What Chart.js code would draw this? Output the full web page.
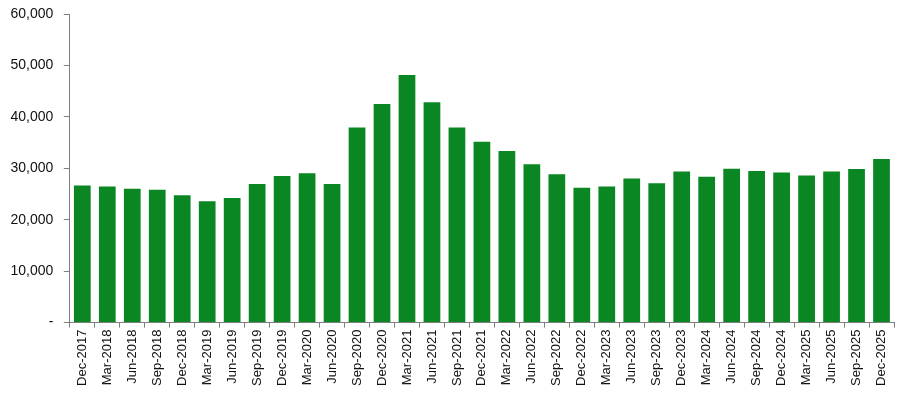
<!DOCTYPE html>
<html>
<head>
<meta charset="utf-8">
<script src="https://cdn.jsdelivr.net/npm/chart.js@4"></script>
<style>
    html, body { margin: 0; padding: 0; background: #ffffff; }
    #wrap { width: 908px; height: 398px; position: relative; }
</style>
</head>
<body>
<div id="wrap"><canvas id="barChart"></canvas></div>
<script>
// --- Data ---
const quarters = [
    'Dec-2017', 'Mar-2018', 'Jun-2018', 'Sep-2018', 'Dec-2018', 'Mar-2019', 'Jun-2019',
    'Sep-2019', 'Dec-2019', 'Mar-2020', 'Jun-2020', 'Sep-2020', 'Dec-2020', 'Mar-2021',
    'Jun-2021', 'Sep-2021', 'Dec-2021', 'Mar-2022', 'Jun-2022', 'Sep-2022', 'Dec-2022',
    'Mar-2023', 'Jun-2023', 'Sep-2023', 'Dec-2023', 'Mar-2024', 'Jun-2024', 'Sep-2024',
    'Dec-2024', 'Mar-2025', 'Jun-2025', 'Sep-2025', 'Dec-2025'
];
const values = [
    26650, 26450, 26050, 25850, 24750, 23600, 24250,
    26950, 28500, 29050, 26950, 37950, 42500, 48150,
    42850, 37950, 35150, 33350, 30800, 28850, 26200,
    26450, 28000, 27100, 29400, 28350, 29900, 29500,
    29200, 28600, 29400, 29850, 31800
];
const yTicks = [0, 10000, 20000, 30000, 40000, 50000, 60000];

Chart.defaults.font.family = "'Liberation Sans', Arial, sans-serif";
Chart.defaults.color = '#111111';

const ctx = document.getElementById('barChart');
new Chart(ctx, {
    type: 'bar',
    data: {
        labels: quarters,
        datasets: [{
            data: values,
            backgroundColor: '#0a8722',
            borderWidth: 0,
            categoryPercentage: 1,
            barPercentage: 0.67
        }]
    },
    options: {
        responsive: true,
        maintainAspectRatio: false,
        animation: false,
        layout: { padding: { top: 1.5, right: 14, left: 0, bottom: 10 } },
        plugins: {
            legend: { display: false },
            tooltip: { enabled: false }
        },
        scales: {
            x: {
                offset: true,
                grid: {
                    offset: true,
                    drawOnChartArea: false,
                    drawTicks: true,
                    tickLength: 5,
                    color: '#7f7f7f'
                },
                border: { color: '#7f7f7f' },
                ticks: {
                    autoSkip: false,
                    minRotation: 90,
                    maxRotation: 90,
                    padding: 2,
                    font: { size: 13 }
                }
            },
            y: {
                min: 0,
                max: 60000,
                afterBuildTicks: axis => {
                    axis.ticks = yTicks.map(v => ({ value: v }));
                },
                // keep the top of the plot where the 60,000 label sits
                afterFit: axis => {
                    axis.paddingTop = 14;
                },
                grid: {
                    drawOnChartArea: false,
                    drawTicks: true,
                    tickLength: 6,
                    color: '#7f7f7f'
                },
                border: { color: '#7f7f7f' },
                ticks: {
                    padding: 10.5,
                    font: { size: 14 },
                    callback: value => value === 0 ? '-' : value.toLocaleString('en-US')
                }
            }
        }
    }
});
</script>
</body>
</html>
